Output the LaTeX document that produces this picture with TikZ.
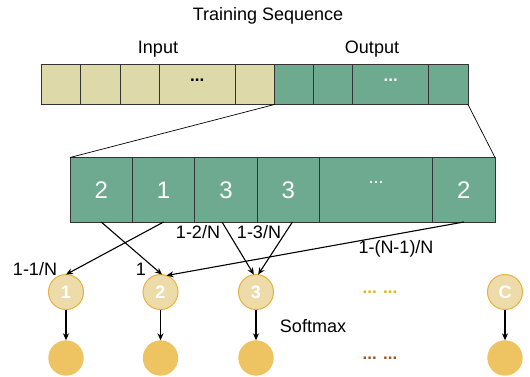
\documentclass[tikz,border=0pt]{standalone}
\usepackage{fontspec}
\setmainfont{Liberation Sans}
\usetikzlibrary{arrows.meta,positioning}

\definecolor{inputfill}{HTML}{DDD9A9}
\definecolor{outputfill}{HTML}{6DAA8F}
\definecolor{probfill}{HTML}{EDDCAA}
\definecolor{probline}{HTML}{E6B13E}
\definecolor{softfill}{HTML}{EEC463}
\definecolor{dotsyellow}{HTML}{E2B21C}
\definecolor{dotsbrown}{HTML}{A3521E}

\begin{document}
\begin{tikzpicture}
	[
	 x = 1pt,
	 y = -1pt,
	 every node/.style = {inner sep = 0pt,
	                      outer sep = 0pt
	                     },
	 cell/.style = {shape=rectangle,
	                draw=black!80,
	                line width=0.7pt,
	                minimum height = 40.5pt,
	                minimum width = 39.2pt
	               },
	 wide/.style    = {minimum width = 76pt},
	 incell/.style  = {cell, fill=inputfill},
	 outcell/.style = {cell, fill=outputfill},
	 seq/.style = {shape=rectangle,
	               draw=black!80,
	               line width=0.7pt,
	               fill=outputfill,
	               minimum height = 64.5pt,
	               minimum width = 62.4pt,
	               text = white,
	               font = \fontsize{24}{24}\selectfont
	              },
	 seqwide/.style = {minimum width = 113pt},
	 prob/.style = {circle,
	                draw=probline,
	                line width=1pt,
	                fill=probfill,
	                minimum size = 35pt,
	                text = white,
	                font = \fontsize{18}{18}\selectfont\bfseries
	               },
	 soft/.style = {circle, fill=softfill, minimum size = 35.4pt},
	 hdots/.style = {font = \fontsize{17}{17}\selectfont\bfseries},
	 lbl/.style = {anchor=base, font = \fontsize{18}{18}\selectfont},
	 arr/.style = {-{Stealth[length=7pt, width=6pt]}, line width=1.1pt}
	]

	\useasboundingbox (0,0) rectangle (530,376);

	\node [incell, anchor=north west] (I1) at (41.6,64) {};
	\node [incell, right=0pt of I1] (I2) {};
	\node [incell, right=0pt of I2] (I3) {};
	\node [incell, wide, right=0pt of I3] (I4) {};
	\node [incell, right=0pt of I4] (I5) {};
	\node [outcell, right=0pt of I5] (O1) {};
	\node [outcell, right=0pt of O1] (O2) {};
	\node [outcell, wide, right=0pt of O2] (O3) {};
	\node [outcell, right=0pt of O3] (O4) {};
	\node [hdots] (Idots) at ([yshift=4.5pt]I4.center) {...};
	\node [hdots, text=white] (Odots) at ([yshift=4.5pt]O3.center) {...};

	\node [seq, anchor=north west] (M1) at (70,157.5) {2};
	\node [seq, right=0pt of M1] (M2) {1};
	\node [seq, right=0pt of M2] (M3) {3};
	\node [seq, right=0pt of M3] (M4) {3};
	\node [seq, seqwide, right=0pt of M4] (M5) {};
	\node [seq, right=0pt of M5] (M6) {2};
	\node [text=white, font=\fontsize{18}{18}\selectfont] (Mdots) at ([yshift=7pt]M5.center) {...};

	\draw [line width=0.7pt] (I5.south east) -- (M1.north west);
	\draw [line width=0.7pt] (O4.south east) -- (M6.north east);

	\node [prob] (P1) at (66,292)  {1};
	\node [prob] (P2) at (160.5,292) {2};
	\node [prob] (P3) at (256,292) {3};
	\node [prob] (PC) at (505,292) {C};
	\node [hdots, text=dotsyellow] (Pdots) at (380,292) {... ...};

	\node [soft] (S1) at (66,358)  {};
	\node [soft] (S2) at (160.5,358) {};
	\node [soft] (S3) at (256,358) {};
	\node [soft] (SC) at (505,358) {};
	\node [hdots, text=dotsbrown] (Sdots) at (380,358) {... ...};

	\draw [arr] (M1.south) -- (P2.85);
	\draw [arr] (M2.south) -- (P1.north);
	\draw [arr] ([xshift=-4pt]M3.south) -- (P3.97);
	\draw [arr] ([xshift=4pt]M4.south) -- (P3.83);
	\draw [arr] (M6.south) -- (P2.70);

	\draw [arr] (P1) -- (S1);
	\draw [arr] (P2) -- (S2);
	\draw [arr] (P3) -- (S3);
	\draw [arr] (PC) -- (SC);

	\begin{scope}[nodes = {lbl}]
	  \node (title)   at (268,20.3)  {Training Sequence};
	  \node (input)   at (158,53.4)  {Input};
	  \node (output)  at (372,53.4)  {Output};
	  \node (w1)      at (35,275)    {1-1/N};
	  \node (w2)      at (141,275)   {1};
	  \node (w3)      at (198,238.3) {1-2/N};
	  \node (w4)      at (259,238.3) {1-3/N};
	  \node (wN)      at (396,253.3) {1-(N-1)/N};
	  \node (softmax) at (313,332.8) {Softmax};
	\end{scope}
\end{tikzpicture}
\end{document}
